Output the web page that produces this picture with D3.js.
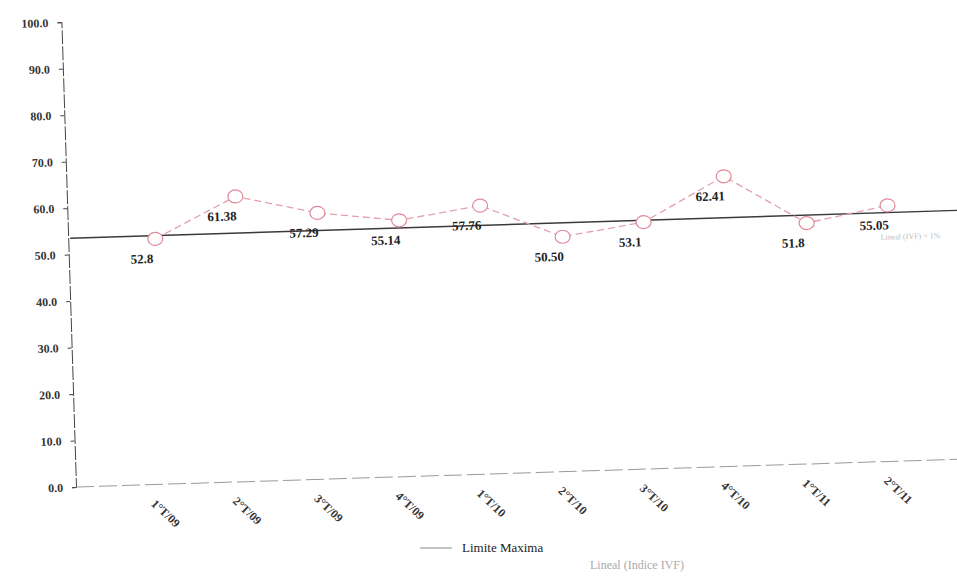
<!DOCTYPE html>
<html>
<head>
<meta charset="utf-8">
<script src="https://cdn.jsdelivr.net/npm/d3@7"></script>
<style>
  body { margin: 0; background: #fff; }
  svg { display: block; }
  .y-axis text { font-family: "Liberation Serif", serif; font-size: 12px; font-weight: bold; fill: #333; }
  .y-axis path, .y-axis line { stroke: #444; }
  .x-label { font-family: "Liberation Serif", serif; font-size: 12px; font-weight: bold; fill: #333; }
  .value-label { font-family: "Liberation Serif", serif; font-size: 13px; font-weight: bold; fill: #222; }
  .legend-text { font-family: "Liberation Serif", serif; font-size: 13px; fill: #222; }
</style>
</head>
<body>
<div id="wrapper"></div>
<script>
// periods on the x axis
const periods = ["1°T/09", "2°T/09", "3°T/09", "4°T/09", "1°T/10", "2°T/10", "3°T/10", "4°T/10", "1°T/11", "2°T/11"];
// index values per period
const values = [52.8, 61.38, 57.29, 55.14, 57.76, 50.50, 53.1, 62.41, 51.8, 55.05];
// labels shown next to points
const valueLabels = ["52.8", "61.38", "57.29", "55.14", "57.76", "50.50", "53.1", "62.41", "51.8", "55.05"];
// constant limit line
const limitValue = [53.5];
const yTicks = [0, 10, 20, 30, 40, 50, 60, 70, 80, 90, 100];

function drawChart() {
  const dimensions = {
    width: 957,
    height: 584,
    origin: { x: 76, y: 487 },
    boundedWidth: 900,
    boundedHeight: 465,
    tilt: -1.8,
  };

  const wrapper = d3.select("#wrapper")
    .append("svg")
    .attr("width", dimensions.width)
    .attr("height", dimensions.height);

  wrapper.append("rect")
    .attr("width", dimensions.width)
    .attr("height", dimensions.height)
    .attr("fill", "#fff");

  // the scanned chart sits slightly tilted
  const bounds = wrapper.append("g")
    .attr("transform", `translate(${dimensions.origin.x},${dimensions.origin.y}) rotate(${dimensions.tilt})`);

  // scales (y goes up from the origin, so negative range)
  const xScale = d3.scalePoint()
    .domain(periods)
    .range([87, 820]);

  const yScale = d3.scaleLinear()
    .domain([0, 100])
    .range([0, -dimensions.boundedHeight]);

  // y axis
  const yAxisGenerator = d3.axisLeft(yScale)
    .tickValues(yTicks)
    .tickSize(4)
    .tickPadding(9)
    .tickFormat(d3.format(".1f"));

  const yAxis = bounds.append("g")
    .attr("class", "y-axis")
    .call(yAxisGenerator);
  yAxis.select(".domain").attr("stroke-dasharray", "14,2");

  // x axis, faint dashed baseline
  bounds.append("line")
    .attr("x1", 0)
    .attr("x2", dimensions.boundedWidth)
    .attr("y1", 0)
    .attr("y2", 0)
    .attr("stroke", "#9a9a9a")
    .attr("stroke-dasharray", "18,5");

  bounds.selectAll(".x-label")
    .data(periods)
    .enter().append("text")
    .attr("class", "x-label")
    .attr("transform", d => `translate(${xScale(d) - 13},${20}) rotate(45)`)
    .text(d => d);

  // limit line
  bounds.selectAll(".limit")
    .data(limitValue)
    .enter().append("line")
    .attr("class", "limit")
    .attr("x1", 2)
    .attr("x2", dimensions.boundedWidth)
    .attr("y1", d => yScale(d))
    .attr("y2", d => yScale(d))
    .attr("stroke", "#3a3a3a")
    .attr("stroke-width", 1.4);

  // data line
  const lineGenerator = d3.line()
    .x((d, i) => xScale(periods[i]))
    .y(d => yScale(d));

  bounds.append("path")
    .attr("d", lineGenerator(values))
    .attr("fill", "none")
    .attr("stroke", "#e3a0ae")
    .attr("stroke-width", 1.3)
    .attr("stroke-dasharray", "7,4");

  bounds.selectAll(".dot")
    .data(values)
    .enter().append("ellipse")
    .attr("class", "dot")
    .attr("cx", (d, i) => xScale(periods[i]))
    .attr("cy", d => yScale(d))
    .attr("rx", 7.5)
    .attr("ry", 6.5)
    .attr("fill", "#fff")
    .attr("stroke", "#e08a9c")
    .attr("stroke-width", 1.2);

  bounds.selectAll(".value-label")
    .data(values)
    .enter().append("text")
    .attr("class", "value-label")
    .attr("x", (d, i) => xScale(periods[i]) - 14)
    .attr("y", d => yScale(d) + 24)
    .attr("text-anchor", "middle")
    .text((d, i) => valueLabels[i]);

  // faint trend note at the right edge
  bounds.append("text")
    .attr("x", 812)
    .attr("y", yScale(limitValue[0]) + 27)
    .attr("font-family", "Liberation Serif, serif")
    .attr("font-size", 8)
    .attr("fill", "#bbb")
    .text("Lineal (IVF) = 1%");

  // legend
  const legend = wrapper.append("g")
    .attr("transform", "translate(420,548)");

  legend.append("line")
    .attr("x1", 0)
    .attr("x2", 32)
    .attr("stroke", "#888")
    .attr("stroke-width", 1);

  legend.append("text")
    .attr("class", "legend-text")
    .attr("x", 42)
    .attr("y", 4)
    .text("Limite Maxima");

  legend.append("text")
    .attr("x", 170)
    .attr("y", 21)
    .attr("font-family", "Liberation Serif, serif")
    .attr("font-size", 12)
    .attr("fill", "#aaa")
    .text("Lineal (Indice IVF)");
}
drawChart();
</script>
</body>
</html>
